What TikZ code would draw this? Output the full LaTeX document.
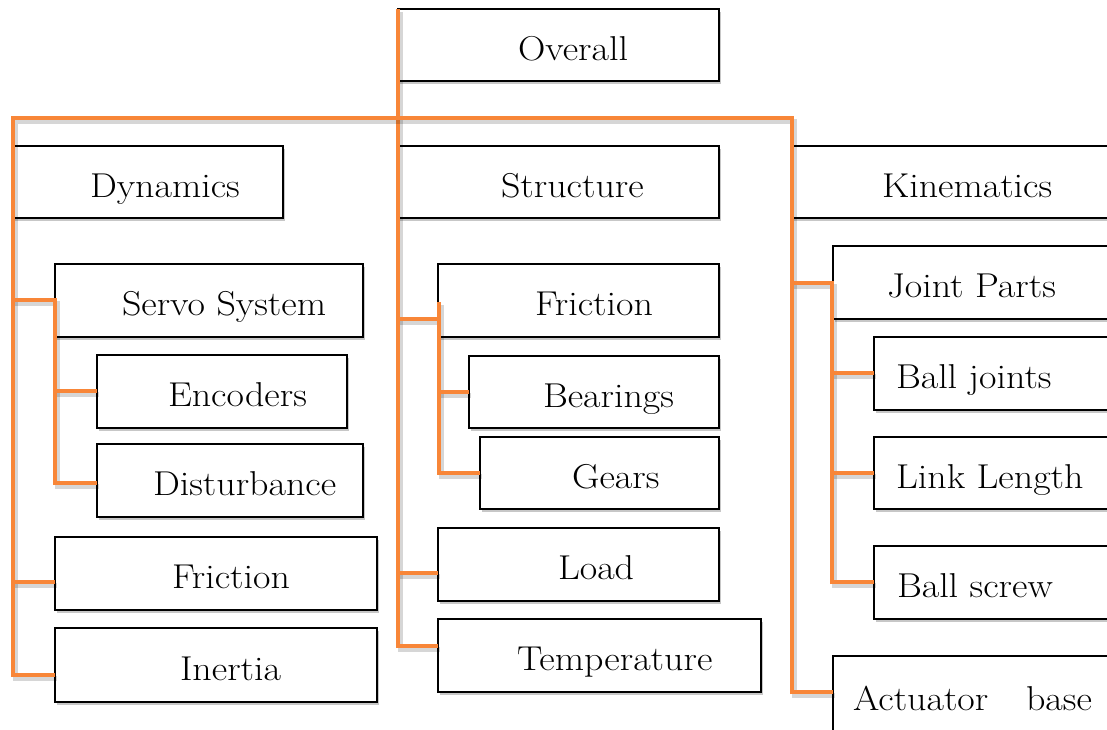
\documentclass[tikz,border=0pt]{standalone}
\usetikzlibrary{shadows}
\definecolor{wireor}{RGB}{248,134,56}
\tikzset{
  box/.style={draw=black, line width=2.8pt, fill=white, rectangle, inner sep=0pt, outer sep=0pt,
    anchor=north west,
    drop shadow={shadow xshift=2pt, shadow yshift=-3pt, opacity=0.22, fill=black}},
  lbl/.style={anchor=base west, inner sep=0pt, outer sep=0pt, font=\fontsize{34.5}{40}\selectfont},
  wire/.style={draw=wireor, line width=4.6pt, line join=miter,
    preaction={draw=black, opacity=0.16, line width=5pt, transform canvas={xshift=2pt, yshift=-3pt}}},
}
\newcommand\mybox[7]{%
  \node[box, minimum width={(#4-#2)*1pt}, minimum height={(#5-#3)*1pt}] (#1) at (#2,#3) {};
  \node[lbl] (#1t) at (#6,{(#3+#5)/2+15}) {\scalebox{1.1}[1]{#7}};
}
\begin{document}
\begin{tikzpicture}[x=1pt, y=-1pt]
\useasboundingbox (0,0) rectangle (1107,729);
\clip (0,0) rectangle (1107,729);
\fill[white] (0,0) rectangle (1107,729);

% top level
\mybox{ov}{398}{9}{719}{81}{518}{Overall}
\mybox{dyn}{13}{146}{283}{218}{90}{Dynamics}
\mybox{str}{398}{146}{719}{218}{501}{Structure}
\mybox{kin}{792}{146}{1120}{218}{882}{Kinematics}

% dynamics branch
\mybox{servo}{55}{264}{363}{337}{122}{Servo System}
\mybox{enc}{97}{355}{347}{428}{168}{Encoders}
\mybox{dist}{97}{444}{363}{517}{153}{Disturbance}
\mybox{dfr}{55}{537}{377}{610}{172}{Friction}
\mybox{inertia}{55}{628}{377}{702}{180}{Inertia}

% structure branch
\mybox{sfr}{438}{264}{719}{337}{535}{Friction}
\mybox{bear}{469}{356}{719}{428}{543}{Bearings}
\mybox{gears}{480}{437}{719}{509}{572}{Gears}
\mybox{load}{438}{528}{719}{601}{558}{Load}
\mybox{temp}{438}{619}{761}{692}{517}{Temperature}

% kinematics branch
\mybox{joint}{833}{246}{1120}{319}{887}{Joint Parts}
\mybox{bj}{874}{337}{1120}{410}{896}{Ball joints}
\mybox{ll}{874}{437}{1120}{509}{896}{Link Length}
\mybox{bscrew}{874}{546}{1120}{619}{897}{Ball screw}
\mybox{act}{833}{656}{1120}{735}{853}{Actuator\hspace{24pt} base}

% connectors
\coordinate (trunkTop) at (398,9);
\coordinate (busL) at (13,118);
\coordinate (busR) at (792,118);

\draw[wire] (trunkTop) -- (trunkTop |- 0,646) -- (temp.west |- 0,646);
\draw[wire] (inertia.west |- 0,675) -| (busL) -- (busR) |- (act.west |- 0,692);

\draw[wire] (busL |- 0,300) -| (55,483) -- (dist.west |- 0,483);
\draw[wire] (55,391) -- (enc.west |- 0,391);
\draw[wire] (busL |- 0,582) -- (dfr.west |- 0,582);

\draw[wire] (trunkTop |- 0,319) -- (sfr.west |- 0,319);
\draw[wire] (439,302) -- (439,473) -- (gears.west |- 0,473);
\draw[wire] (439,392) -- (bear.west |- 0,392);
\draw[wire] (trunkTop |- 0,573) -- (load.west |- 0,573);

\draw[wire] (busR |- 0,283) -| (832,582) -- (bscrew.west |- 0,582);
\draw[wire] (832,373) -- (bj.west |- 0,373);
\draw[wire] (832,473) -- (ll.west |- 0,473);
\end{tikzpicture}
\end{document}
